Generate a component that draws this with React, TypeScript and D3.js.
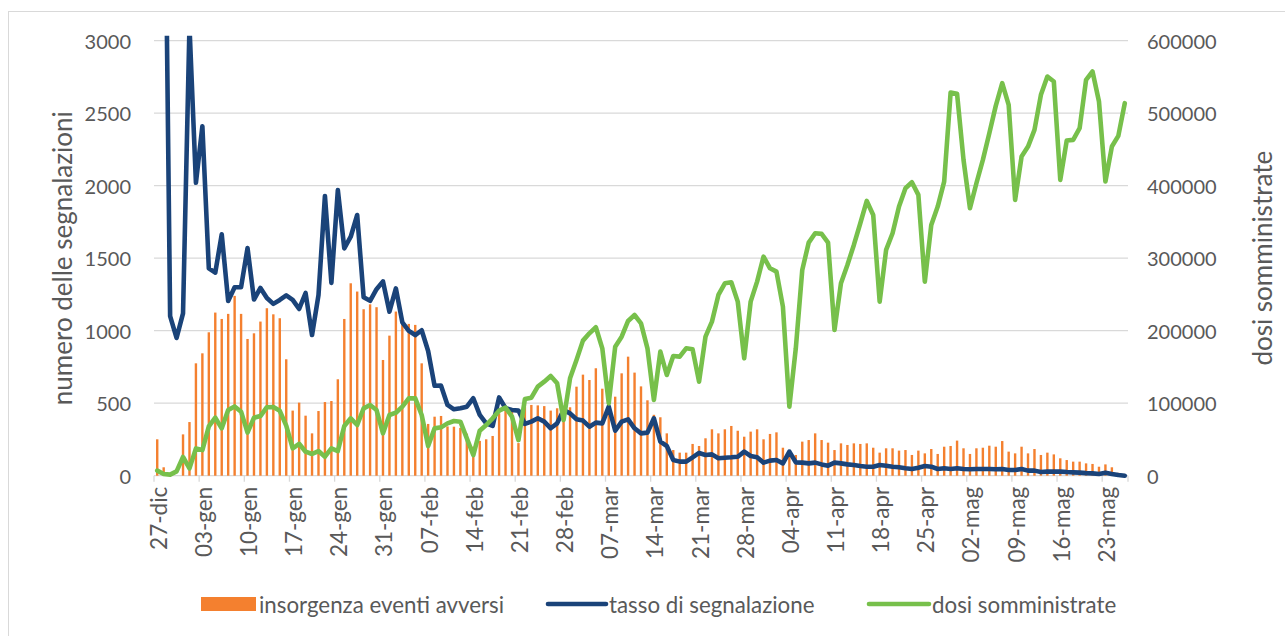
import React from 'react';
import * as d3 from 'd3';

// daily adverse-event onsets (bars, left axis)
const insorgenza = [
  251, 58, 0, 0, 285, 370, 775, 844, 989, 1125, 1081, 1116, 1240, 1116, 943, 982, 1063, 1155, 1113, 1086,
  803, 449, 504, 414, 292, 446, 508, 515, 665, 1081, 1327, 1270, 1148, 1182, 1162, 798, 966, 1132, 1074, 1047,
  1040, 775, 357, 407, 412, 340, 338, 330, 290, 200, 240, 251, 274, 430, 460, 440, 225, 495, 488, 485,
  480, 449, 465, 400, 472, 614, 697, 660, 741, 600, 650, 545, 706, 821, 711, 616, 520, 420, 403, 292,
  177, 159, 159, 219, 205, 258, 320, 292, 320, 343, 310, 269, 304, 320, 251, 288, 299, 193, 177, 143,
  235, 246, 292, 246, 228, 177, 223, 212, 223, 219, 223, 193, 159, 189, 189, 173, 177, 143, 173, 154,
  184, 150, 200, 205, 242, 189, 150, 189, 193, 207, 200, 239, 166, 154, 200, 154, 184, 143, 159, 147,
  120, 108, 97, 97, 85, 81, 62, 78, 58, 20, 5,
];

// reporting rate (navy line, left axis)
const tasso = [
  6000, 5000, 1100, 950, 1120, 3100, 2020, 2410, 1430, 1400, 1665, 1205, 1300, 1300, 1570, 1215, 1295, 1225, 1185, 1212,
  1243, 1212, 1150, 1260, 970, 1245, 1929, 1330, 1970, 1568, 1648, 1798, 1230, 1206, 1286, 1340, 1131, 1292, 1057, 999,
  970, 1003, 860, 620, 621, 488, 458, 465, 476, 534, 419, 361, 343, 540, 465, 453, 449, 357, 373, 396,
  373, 327, 361, 453, 430, 389, 380, 338, 366, 361, 476, 310, 373, 389, 327, 292, 297, 396, 235, 205,
  108, 97, 97, 127, 157, 143, 147, 120, 124, 127, 131, 166, 136, 127, 90, 104, 108, 85, 166, 92,
  90, 85, 90, 78, 69, 90, 85, 78, 74, 67, 62, 62, 74, 69, 62, 58, 51, 46, 55, 67,
  62, 46, 51, 46, 51, 46, 44, 46, 46, 46, 44, 46, 39, 39, 46, 35, 35, 25, 28, 28,
  28, 25, 23, 21, 18, 16, 12, 21, 12, 5, 0,
];

// administered doses (green line, right axis)
const dosi = [
  7000, 2300, 1500, 6000, 25800, 10100, 37700, 35400, 68000, 80000, 65300, 90600, 95500, 88300, 59500, 80000, 82300, 94500, 94700, 89500,
  69000, 37700, 44000, 33100, 29900, 34000, 26200, 37700, 34000, 68500, 79100, 69900, 92900, 97500, 90600, 58400, 83700, 86900, 95200, 106700,
  106700, 83700, 40900, 65300, 66700, 72200, 75400, 74500, 51500, 28500, 62100, 69900, 79100, 89700, 93800, 81400, 49200, 105800, 107600, 122800,
  129700, 137500, 127400, 76800, 134300, 159600, 186300, 196400, 204700, 175700, 99800, 178000, 191800, 213400, 221700, 210200, 175700, 104400, 171100, 138900,
  165100, 164200, 175700, 174300, 129700, 191800, 212500, 249300, 265400, 266800, 240100, 161900, 240100, 267700, 302200, 286100, 281500, 233200, 95200, 175700,
  283800, 321500, 334400, 333500, 321500, 201000, 265400, 290700, 318300, 348200, 379000, 359700, 240100, 311400, 334400, 371200, 396500, 404800, 387300, 267700,
  345900, 371200, 405700, 528500, 526700, 435600, 368900, 403400, 435600, 472400, 510100, 541400, 511500, 380400, 440200, 454000, 477000, 525300, 550600, 543700,
  408000, 462300, 463200, 479300, 546000, 557500, 516100, 405700, 454000, 468700, 513800,
];

// weekly category labels (every 7th day from 27-dic)
const tickLabels = [
  '27-dic', '03-gen', '10-gen', '17-gen', '24-gen', '31-gen', '07-feb', '14-feb', '21-feb', '28-feb', '07-mar',
  '14-mar', '21-mar', '28-mar', '04-apr', '11-apr', '18-apr', '25-apr', '02-mag', '09-mag', '16-mag', '23-mag',
];

const leftTicks = [0, 500, 1000, 1500, 2000, 2500, 3000];
const rightTicks = [0, 100000, 200000, 300000, 400000, 500000, 600000];

const W = 1285;
const H = 636;
const plot = { left: 154, right: 1128, top: 40.7, bottom: 475.7 };
const font = "Lato, 'Open Sans', sans-serif";
const textColor = '#595959';
const gridColor = '#d9d9d9';
const orange = '#f4802f';
const navy = '#1a4379';
const green = '#77c04b';

export default function App() {
  const days = d3.range(insorgenza.length);
  const x = d3.scaleBand<number>().domain(days).range([plot.left, plot.right]).padding(0);
  const cx = (i: number) => (x(i) as number) + x.bandwidth() / 2;
  const yL = d3.scaleLinear().domain([0, 3000]).range([plot.bottom, plot.top]);
  const yR = d3.scaleLinear().domain([0, 600000]).range([plot.bottom, plot.top]);

  const navyLine = d3.line<number>().x((_, i) => cx(i)).y((d) => yL(d));
  const greenLine = d3.line<number>().x((_, i) => cx(i)).y((d) => yR(d));
  const barW = 2.4;

  return (
    <svg width={W} height={H} style={{ display: 'block', position: 'absolute', left: 0, top: 0 }}>
      <defs>
        <clipPath id="plotClip">
          <rect x={plot.left} y={plot.top - 5} width={plot.right - plot.left} height={plot.bottom - plot.top + 10} />
        </clipPath>
      </defs>
      <rect x={0} y={0} width={W} height={H} fill="#fff" />
      <rect x={8.5} y={11.5} width={W + 20} height={H + 20} fill="none" stroke={gridColor} />

      {/* gridlines */}
      {leftTicks.map((t) => (
        <line key={t} x1={plot.left} x2={plot.right} y1={yL(t)} y2={yL(t)} stroke={gridColor} strokeWidth={1.3} />
      ))}

      {/* x-axis ticks every 7 days */}
      {tickLabels.map((lab, k) => {
        const xt = x(k * 7) as number;
        return (
          <g key={lab}>
            <line x1={xt} x2={xt} y1={plot.bottom} y2={plot.bottom + 6} stroke={gridColor} strokeWidth={1.3} />
            <text
              transform={`translate(${cx(k * 7) + 1},${plot.bottom + 11}) rotate(-90)`}
              textAnchor="end"
              dominantBaseline="central"
              fontFamily={font}
              fontSize={22.5}
              fill={textColor}
            >
              {lab}
            </text>
          </g>
        );
      })}
      <line x1={plot.right} x2={plot.right} y1={plot.bottom} y2={plot.bottom + 6} stroke={gridColor} strokeWidth={1.3} />

      {/* bars */}
      {insorgenza.map((v, i) => (
        <rect key={i} x={cx(i) - barW / 2} y={yL(v)} width={barW} height={plot.bottom - yL(v)} fill={orange} />
      ))}

      <g clipPath="url(#plotClip)">
        <path d={navyLine(tasso) || ''} fill="none" stroke={navy} strokeWidth={4.6} strokeLinejoin="round" strokeLinecap="round" />
        <path d={greenLine(dosi) || ''} fill="none" stroke={green} strokeWidth={4.6} strokeLinejoin="round" strokeLinecap="round" />
      </g>

      {/* left axis labels */}
      {leftTicks.map((t) => (
        <text key={t} x={131} y={yL(t)} textAnchor="end" dominantBaseline="central" fontFamily={font} fontSize={20} fill={textColor}>
          {t}
        </text>
      ))}
      {/* right axis labels */}
      {rightTicks.map((t) => (
        <text key={t} x={1147} y={yR(t)} textAnchor="start" dominantBaseline="central" fontFamily={font} fontSize={20} fill={textColor}>
          {t}
        </text>
      ))}

      <text
        transform={`translate(62,${(plot.top + plot.bottom) / 2}) rotate(-90)`}
        textAnchor="middle"
        dominantBaseline="central"
        fontFamily={font}
        fontSize={26}
        fill={textColor}
      >
        numero delle segnalazioni
      </text>
      <text
        transform={`translate(1262,${(plot.top + plot.bottom) / 2}) rotate(-90)`}
        textAnchor="middle"
        dominantBaseline="central"
        fontFamily={font}
        fontSize={26}
        fill={textColor}
      >
        dosi somministrate
      </text>

      {/* legend */}
      <rect x={201} y={597} width={55} height={14} fill={orange} />
      <text x={259} y={604} dominantBaseline="central" fontFamily={font} fontSize={22.3} fill={textColor}>
        insorgenza eventi avversi
      </text>
      <line x1={548} x2={606} y1={604} y2={604} stroke={navy} strokeWidth={4.6} strokeLinecap="round" />
      <text x={609} y={604} dominantBaseline="central" fontFamily={font} fontSize={22.3} fill={textColor}>
        tasso di segnalazione
      </text>
      <line x1={869} x2={929} y1={604} y2={604} stroke={green} strokeWidth={4.6} strokeLinecap="round" />
      <text x={932} y={604} dominantBaseline="central" fontFamily={font} fontSize={22.3} fill={textColor}>
        dosi somministrate
      </text>
    </svg>
  );
}
